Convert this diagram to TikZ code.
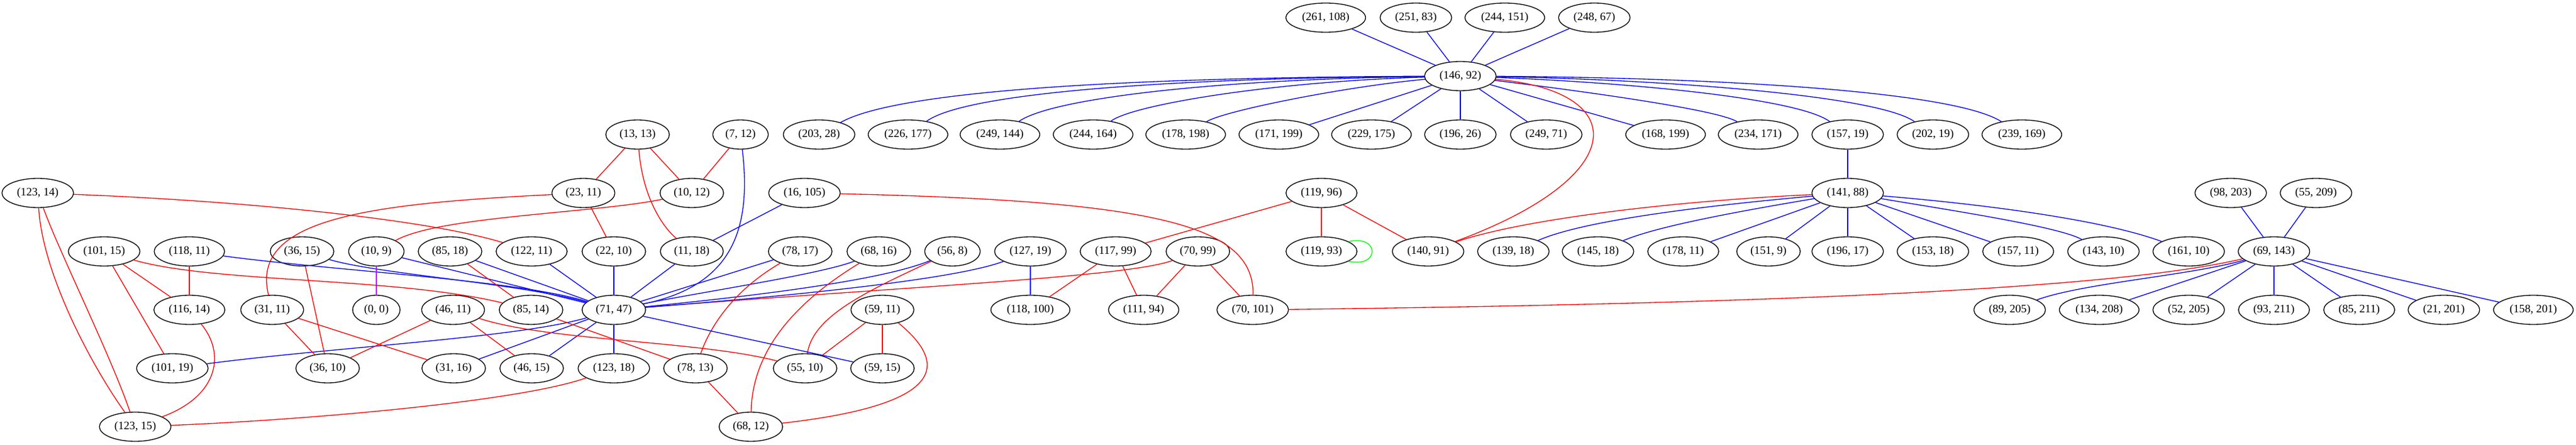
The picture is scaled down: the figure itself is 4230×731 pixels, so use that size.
\documentclass[tikz,border=0pt]{standalone}
\usepackage{fontspec}
\setmainfont{Liberation Serif}
\usetikzlibrary{shapes.geometric}
\definecolor{gvpurple}{RGB}{160,32,240}
\begin{document}
\begin{tikzpicture}[x=0.75pt,y=-0.75pt,
  gn/.style={ellipse,draw=black,line width=1pt,minimum width=54pt,minimum height=36pt,inner xsep=5.5pt,inner ysep=2pt,font=\fontsize{14}{16}\selectfont},
  be/.style={draw=blue,line width=1pt},
  re/.style={draw=red,line width=1pt},
  ge/.style={draw=green,line width=1pt},
  pe/.style={draw=gvpurple,line width=1pt}]
\useasboundingbox (0,0) rectangle (4230,731);
% rank 1
\node[gn] (n261x108) at (2177,29) {(261, 108)};
\node[gn] (n251x83) at (2325,29) {(251, 83)};
\node[gn] (n244x151) at (2471,29) {(244, 151)};
\node[gn] (n248x67) at (2618,29) {(248, 67)};
% rank 2
\node[gn] (n146x92) at (2398,125) {(146, 92)};
% rank 3
\node[gn] (n13x13) at (1047,221) {(13, 13)};
\node[gn] (n7x12) at (1216,221) {(7, 12)};
\node[gn] (n203x28) at (1345,221) {(203, 28)};
\node[gn] (n226x177) at (1491,221) {(226, 177)};
\node[gn] (n249x144) at (1642,221) {(249, 144)};
\node[gn] (n244x164) at (1795,221) {(244, 164)};
\node[gn] (n178x198) at (1947,221) {(178, 198)};
\node[gn] (n171x199) at (2100,221) {(171, 199)};
\node[gn] (n229x175) at (2252,221) {(229, 175)};
\node[gn] (n196x26) at (2398,221) {(196, 26)};
\node[gn] (n249x71) at (2539,221) {(249, 71)};
\node[gn] (n168x199) at (2735,221) {(168, 199)};
\node[gn] (n234x171) at (2887,221) {(234, 171)};
\node[gn] (n157x19) at (3034,221) {(157, 19)};
\node[gn] (n202x19) at (3174,221) {(202, 19)};
\node[gn] (n239x169) at (3320,221) {(239, 169)};
% rank 4
\node[gn] (n123x14) at (62,317) {(123, 14)};
\node[gn] (n23x11) at (958,317) {(23, 11)};
\node[gn] (n10x12) at (1136,317) {(10, 12)};
\node[gn] (n16x105) at (1321,317) {(16, 105)};
\node[gn] (n119x96) at (2170,317) {(119, 96)};
\node[gn] (n141x88) at (3034,317) {(141, 88)};
\node[gn] (n98x203) at (3663,317) {(98, 203)};
\node[gn] (n55x209) at (3803,317) {(55, 209)};
% rank 5
\node[gn] (n101x15) at (171,413) {(101, 15)};
\node[gn] (n118x11) at (311,413) {(118, 11)};
\node[gn] (n36x15) at (496,413) {(36, 15)};
\node[gn] (n10x9) at (618,413) {(10, 9)};
\node[gn] (n85x18) at (739,413) {(85, 18)};
\node[gn] (n122x11) at (873,413) {(122, 11)};
\node[gn] (n22x10) at (1008,413) {(22, 10)};
\node[gn] (n11x18) at (1136,413) {(11, 18)};
\node[gn] (n78x17) at (1314,413) {(78, 17)};
\node[gn] (n68x16) at (1443,413) {(68, 16)};
\node[gn] (n56x8) at (1564,413) {(56, 8)};
\node[gn] (n127x19) at (1692,413) {(127, 19)};
\node[gn] (n117x99) at (1832,413) {(117, 99)};
\node[gn] (n70x99) at (1967,413) {(70, 99)};
\node[gn] (n119x93) at (2170,413) {(119, 93)};
\node[gn] (n140x91) at (2345,413) {(140, 91)};
\node[gn] (n139x18) at (2485,413) {(139, 18)};
\node[gn] (n145x18) at (2624,413) {(145, 18)};
\node[gn] (n178x11) at (2764,413) {(178, 11)};
\node[gn] (n151x9) at (2904,413) {(151, 9)};
\node[gn] (n196x17) at (3034,413) {(196, 17)};
\node[gn] (n153x18) at (3174,413) {(153, 18)};
\node[gn] (n157x11) at (3314,413) {(157, 11)};
\node[gn] (n143x10) at (3454,413) {(143, 10)};
\node[gn] (n161x10) at (3594,413) {(161, 10)};
\node[gn] (n69x143) at (3734,413) {(69, 143)};
% rank 6
\node[gn] (n116x14) at (311,509) {(116, 14)};
\node[gn] (n31x11) at (447,509) {(31, 11)};
\node[gn] (n0x0) at (618,509) {(0, 0)};
\node[gn] (n46x11) at (744,509) {(46, 11)};
\node[gn] (n85x14) at (872,509) {(85, 14)};
\node[gn] (n71x47) at (1008,509) {(71, 47)};
\node[gn] (n59x11) at (1449,509) {(59, 11)};
\node[gn] (n118x100) at (1692,509) {(118, 100)};
\node[gn] (n111x94) at (1878,509) {(111, 94)};
\node[gn] (n70x101) at (2057,509) {(70, 101)};
\node[gn] (n89x205) at (3300,509) {(89, 205)};
\node[gn] (n134x208) at (3447,509) {(134, 208)};
\node[gn] (n52x205) at (3594,509) {(52, 205)};
\node[gn] (n93x211) at (3734,509) {(93, 211)};
\node[gn] (n85x211) at (3874,509) {(85, 211)};
\node[gn] (n21x201) at (4013,509) {(21, 201)};
\node[gn] (n158x201) at (4160,509) {(158, 201)};
% rank 7
\node[gn] (n101x19) at (283,605) {(101, 19)};
\node[gn] (n36x10) at (538,605) {(36, 10)};
\node[gn] (n31x16) at (745,605) {(31, 16)};
\node[gn] (n46x15) at (873,605) {(46, 15)};
\node[gn] (n123x18) at (1008,605) {(123, 18)};
\node[gn] (n78x13) at (1142,605) {(78, 13)};
\node[gn] (n55x10) at (1322,605) {(55, 10)};
\node[gn] (n59x15) at (1449,605) {(59, 15)};
% rank 8
\node[gn] (n123x15) at (222,701) {(123, 15)};
\node[gn] (n68x12) at (1233,701) {(68, 12)};

% ---- edges of (146, 92)
\draw[be] (n261x108) -- (n146x92);
\draw[be] (n251x83) -- (n146x92);
\draw[be] (n244x151) -- (n146x92);
\draw[be] (n248x67) -- (n146x92);
\draw[be] (n146x92) .. controls (1900,127) and (1480,145) .. (n203x28);
\draw[be] (n146x92) .. controls (1950,128) and (1590,150) .. (n226x177);
\draw[be] (n146x92) .. controls (2010,130) and (1730,160) .. (n249x144);
\draw[be] (n146x92) .. controls (2090,134) and (1860,172) .. (n244x164);
\draw[be] (n146x92) .. controls (2210,142) and (2010,182) .. (n178x198);
\draw[be] (n146x92) -- (n171x199);
\draw[be] (n146x92) -- (n229x175);
\draw[be] (n146x92) -- (n196x26);
\draw[be] (n146x92) -- (n249x71);
\draw[be] (n146x92) -- (n168x199);
\draw[be] (n146x92) .. controls (2600,150) and (2820,180) .. (n234x171);
\draw[be] (n146x92) .. controls (2660,135) and (2950,160) .. (n157x19);
\draw[be] (n146x92) .. controls (2710,130) and (3080,155) .. (n202x19);
\draw[be] (n146x92) .. controls (2760,127) and (3200,145) .. (n239x169);
\draw[re] (n146x92) .. controls (2680,150) and (2680,290) .. (n140x91);
% ---- (141, 88)
\draw[be] (n157x19) -- (n141x88);
\draw[re] (n141x88) .. controls (2750,330) and (2500,360) .. (n140x91);
\draw[be] (n141x88) .. controls (2800,338) and (2600,362) .. (n139x18);
\draw[be] (n141x88) .. controls (2850,348) and (2720,372) .. (n145x18);
\draw[be] (n141x88) -- (n178x11);
\draw[be] (n141x88) -- (n151x9);
\draw[be] (n141x88) -- (n196x17);
\draw[be] (n141x88) -- (n153x18);
\draw[be] (n141x88) -- (n157x11);
\draw[be] (n141x88) .. controls (3200,345) and (3380,372) .. (n143x10);
\draw[be] (n141x88) .. controls (3250,335) and (3450,360) .. (n161x10);
% ---- (119, 96)
\draw[re] (n119x96) -- (n119x93);
\draw[re] (n119x96) -- (n140x91);
\draw[re] (n119x96) -- (n117x99);
\draw[ge] (n119x93.20) .. controls (2266,385) and (2266,441) .. (n119x93.-20);
% ---- (69, 143)
\draw[be] (n98x203) -- (n69x143);
\draw[be] (n55x209) -- (n69x143);
\draw[be] (n69x143) .. controls (3600,452) and (3420,465) .. (n89x205);
\draw[be] (n69x143) -- (n134x208);
\draw[be] (n69x143) -- (n52x205);
\draw[be] (n69x143) -- (n93x211);
\draw[be] (n69x143) -- (n85x211);
\draw[be] (n69x143) -- (n21x201);
\draw[be] (n69x143) -- (n158x201);
\draw[re] (n69x143) .. controls (3450,480) and (2800,500) .. (n70x101);
% ---- (16, 105), (70, 99), (117, 99), (127, 19)
\draw[be] (n16x105) -- (n11x18);
\draw[re] (n16x105) .. controls (1900,330) and (2060,370) .. (n70x101);
\draw[re] (n70x99) -- (n111x94);
\draw[re] (n70x99) -- (n70x101);
\draw[re] (n70x99) .. controls (1850,455) and (1500,470) .. (n71x47);
\draw[re] (n117x99) -- (n118x100);
\draw[re] (n117x99) -- (n111x94);
\draw[be] (n127x19) -- (n118x100);
\draw[be] (n127x19) .. controls (1560,462) and (1250,490) .. (n71x47);
% ---- (56, 8), (68, 16), (78, 17), (59, 11)
\draw[be] (n56x8) .. controls (1450,460) and (1250,485) .. (n71x47);
\draw[re] (n56x8) .. controls (1420,480) and (1335,520) .. (n55x10);
\draw[be] (n68x16) .. controls (1350,450) and (1150,480) .. (n71x47);
\draw[re] (n68x16) .. controls (1300,500) and (1235,580) .. (n68x12);
\draw[be] (n78x17) -- (n71x47);
\draw[re] (n78x17) .. controls (1200,480) and (1165,540) .. (n78x13);
\draw[re] (n59x11) -- (n59x15);
\draw[re] (n59x11) -- (n55x10);
\draw[re] (n59x11) .. controls (1560,600) and (1550,665) .. (n68x12);
% ---- (7, 12), (13, 13), (10, 12), (23, 11)
\draw[re] (n7x12) -- (n10x12);
\draw[be] (n7x12) .. controls (1235,380) and (1200,470) .. (n71x47);
\draw[re] (n13x13) -- (n23x11);
\draw[re] (n13x13) -- (n10x12);
\draw[re] (n13x13) .. controls (1055,320) and (1085,370) .. (n11x18);
\draw[re] (n10x12) .. controls (980,350) and (720,355) .. (n10x9);
\draw[re] (n23x11) -- (n22x10);
\draw[re] (n23x11) .. controls (600,335) and (410,360) .. (n31x11);
% ---- (123, 14)
\draw[re] (n123x14) .. controls (400,330) and (700,360) .. (n122x11);
\draw[re] (n123x14) .. controls (70,450) and (150,600) .. (n123x15);
\draw[re] (n123x14) .. controls (100,420) and (180,580) .. (n123x15);
\draw[re] (n116x14) .. controls (370,580) and (360,650) .. (n123x15);
\draw[re] (n123x18) .. controls (850,660) and (500,690) .. (n123x15);
% ---- left part
\draw[re] (n118x11) -- (n116x14);
\draw[be] (n118x11) .. controls (550,445) and (850,460) .. (n71x47);
\draw[be] (n36x15) .. controls (620,450) and (850,465) .. (n71x47);
\draw[be] (n10x9) -- (n71x47);
\draw[pe] (n10x9) -- (n0x0);
\draw[re] (n101x15) .. controls (350,465) and (650,455) .. (n85x14);
\draw[re] (n101x15) -- (n116x14);
\draw[re] (n101x15) -- (n101x19);
\draw[be] (n85x18) -- (n71x47);
\draw[re] (n85x18) -- (n85x14);
\draw[be] (n122x11) -- (n71x47);
\draw[be] (n22x10) -- (n71x47);
\draw[be] (n11x18) -- (n71x47);
\draw[be] (n71x47) .. controls (850,555) and (550,570) .. (n101x19);
\draw[be] (n71x47) -- (n31x16);
\draw[be] (n71x47) -- (n46x15);
\draw[be] (n71x47) -- (n123x18);
\draw[be] (n71x47) -- (n59x15);
\draw[re] (n31x11) -- (n36x10);
\draw[re] (n31x11) -- (n31x16);
\draw[re] (n36x15) -- (n36x10);
\draw[re] (n46x11) -- (n36x10);
\draw[re] (n46x11) -- (n46x15);
\draw[re] (n46x11) .. controls (900,560) and (1150,560) .. (n55x10);
\draw[re] (n85x14) -- (n78x13);
\draw[re] (n78x13) -- (n68x12);
\end{tikzpicture}
\end{document}
